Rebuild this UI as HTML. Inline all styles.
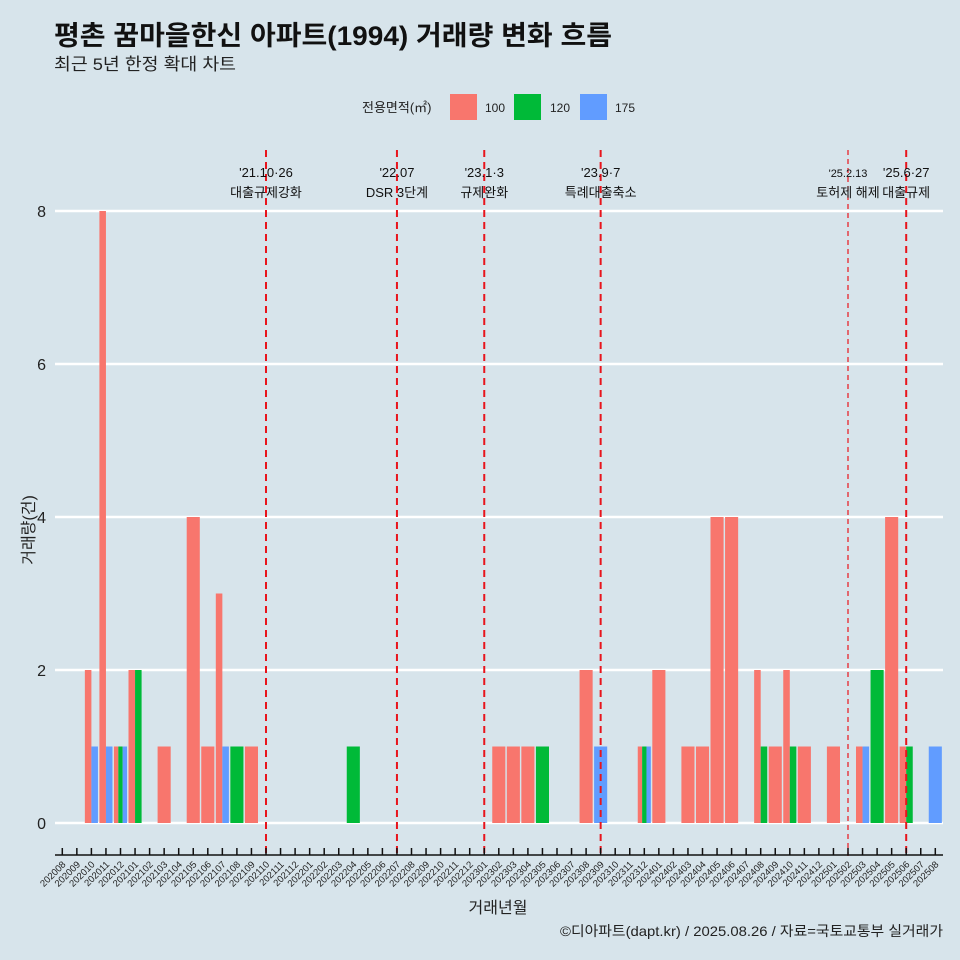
<!DOCTYPE html>
<html><head><meta charset="utf-8"><style>
body{margin:0;background:#d7e4eb;}
svg{display:block;font-family:"Liberation Sans","Noto Sans CJK KR",sans-serif;}
</style></head><body>
<svg id="chart" width="960" height="960" xmlns="http://www.w3.org/2000/svg">
<rect width="960" height="960" fill="#d7e4eb"/>
<text x="54" y="45" font-size="27" font-weight="bold" fill="#111" textLength="558" lengthAdjust="spacingAndGlyphs">평촌 꿈마을한신 아파트(1994) 거래량 변화 흐름</text>
<text x="54" y="70" font-size="17" fill="#222" textLength="182" lengthAdjust="spacingAndGlyphs">최근 5년 한정 확대 차트</text>
<g>
<text x="362" y="112" font-size="13" fill="#222">전용면적(㎡)</text>
<rect x="450" y="94" width="27" height="26" fill="#f8766d"/>
<text x="485" y="112" font-size="12" fill="#222">100</text>
<rect x="514" y="94" width="27" height="26" fill="#00ba38"/>
<text x="550" y="112" font-size="12" fill="#222">120</text>
<rect x="580" y="94" width="27" height="26" fill="#619cff"/>
<text x="615" y="112" font-size="12" fill="#222">175</text>
</g>
<g id="grid"></g><g id="bars"></g><g id="events"></g><g id="axes"></g>
<text x="0" y="0" transform="translate(34,530) rotate(-90)" text-anchor="middle" font-size="16" fill="#222">거래량(건)</text>
<text x="498" y="913" text-anchor="middle" font-size="16" fill="#222">거래년월</text>
<text x="943" y="936" text-anchor="end" font-size="14" fill="#222" textLength="383" lengthAdjust="spacingAndGlyphs">©디아파트(dapt.kr) / 2025.08.26 / 자료=국토교통부 실거래가</text>
</svg>
<script>
const months=["202008","202009","202010","202011","202012","202101","202102","202103","202104","202105","202106","202107","202108","202109","202110","202111","202112","202201","202202","202203","202204","202205","202206","202207","202208","202209","202210","202211","202212","202301","202302","202303","202304","202305","202306","202307","202308","202309","202310","202311","202312","202401","202402","202403","202404","202405","202406","202407","202408","202409","202410","202411","202412","202501","202502","202503","202504","202505","202506","202507","202508"];
const series=["100","120","175"];
const colors=["#f8766d","#00ba38","#619cff"];
const obsMonth=["202010","202010","202011","202011","202012","202012","202012","202101","202101","202103","202105","202106","202107","202107","202108","202109","202204","202302","202303","202304","202305","202308","202309","202312","202312","202312","202401","202403","202404","202405","202406","202408","202408","202409","202410","202410","202411","202501","202503","202503","202504","202505","202506","202506","202508"];
const obsSeries=["100","175","100","175","100","120","175","100","120","100","100","100","100","175","120","100","120","100","100","100","120","100","175","100","120","175","100","100","100","100","100","100","120","100","100","120","100","100","100","175","120","100","100","120","175"];
const obsValue=[2,1,8,1,1,1,1,2,2,1,4,1,3,1,1,1,1,1,1,1,1,2,1,1,1,1,2,1,1,4,4,2,1,1,2,1,1,1,1,1,2,4,1,1,1];
const yTicks=[0,2,4,6,8];
const eventMonth=["202110","202207","202301","202309","202502","202506"];
const eventLine1=["'21.10·26","'22.07","'23.1·3","'23.9·7","'25.2.13","'25.6·27"];
const eventLine2=["대출규제강화","DSR 3단계","규제완화","특례대출축소","토허제 해제","대출규제"];
const eventThin=[false,false,false,false,true,false];

const NS="http://www.w3.org/2000/svg";
const X0=62.3,STEP=14.55,Y0=823,YS=76.5;
const xs=m=>X0+months.indexOf(m)*STEP;
const ys=v=>Y0-v*YS;
function mk(tag,attrs,parent){const e=document.createElementNS(NS,tag);for(const k in attrs)e.setAttribute(k,attrs[k]);parent.appendChild(e);return e;}
const grid=document.getElementById('grid'),bars=document.getElementById('bars'),ev=document.getElementById('events'),axes=document.getElementById('axes');
yTicks.forEach(t=>{
 const l=mk('line',{x1:55,x2:943,y1:ys(t),y2:ys(t),stroke:'#fff','stroke-width':2.5},grid);
 
 
 const tx=mk('text',{x:46,y:ys(t)+6,'text-anchor':'end','font-size':16,fill:'#222'},axes);
 tx.textContent=t;
 
 
});
const W=0.9*STEP;
months.forEach(m=>{
 const idx=[];obsMonth.forEach((om,i)=>{if(om===m)idx.push(i);});
 if(!idx.length)return;
 idx.sort((a,b)=>series.indexOf(obsSeries[a])-series.indexOf(obsSeries[b]));
 const bw=W/idx.length;
 idx.forEach((i,k)=>{
  const x=xs(m)-W/2+k*bw;
  const r=mk('rect',{x:x,y:ys(obsValue[i]),width:bw,height:obsValue[i]*YS,fill:colors[series.indexOf(obsSeries[i])]},bars);
  
  
 });
});
eventMonth.forEach((m,i)=>{
 const x=xs(m);
 const l=mk('line',{x1:x,x2:x,y1:150,y2:856,stroke:'#e8141c','stroke-width':eventThin[i]?1.2:2,'stroke-dasharray':eventThin[i]?'5,4':'7,5'},ev);
 
 
 const fs=eventThin[i]?11:13;
 const t1=mk('text',{x:x,y:177,'text-anchor':'middle','font-size':fs,fill:'#111'},ev);t1.textContent=eventLine1[i];
 
 
 const t2=mk('text',{x:x,y:197,'text-anchor':'middle','font-size':13,fill:'#111'},ev);t2.textContent=eventLine2[i];
 
 
});
const ax=mk('line',{x1:55,x2:943,y1:855,y2:855,stroke:'#111','stroke-width':1.5},axes);


months.forEach(m=>{
 const x=xs(m);
 const t=mk('line',{x1:x,x2:x,y1:848,y2:855,stroke:'#111','stroke-width':1.5},axes);
 
 
 const tx=mk('text',{x:0,y:0,'text-anchor':'end','font-size':9.5,fill:'#222',transform:`translate(${x+4},${865}) rotate(-45)`},axes);
 tx.textContent=m;
 
 
});
</script>
</body></html>
